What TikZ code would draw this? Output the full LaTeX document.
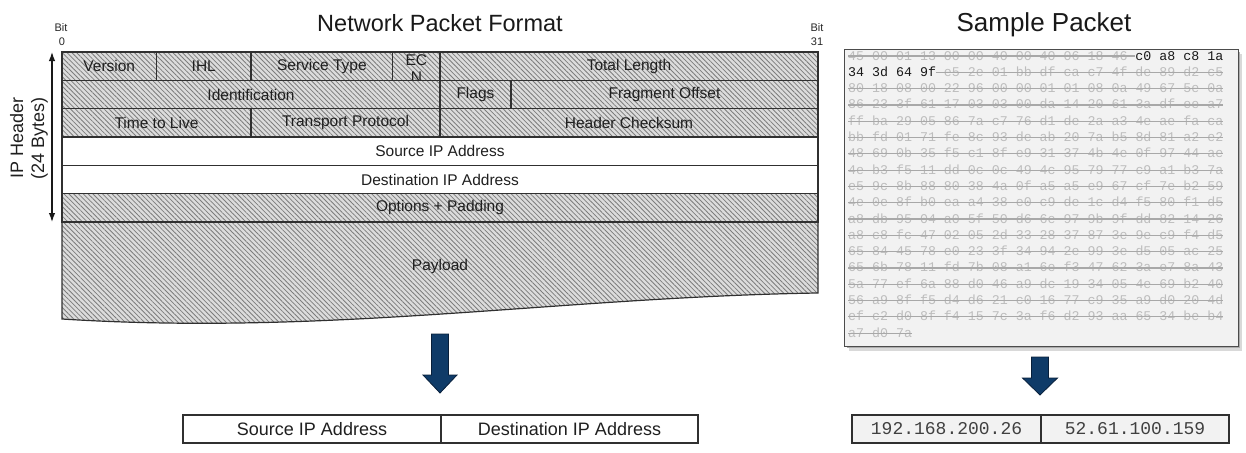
\documentclass[tikz,border=0pt]{standalone}
\usepackage{fontspec}
\setmainfont{Liberation Sans}
\newfontfamily\hexfont{Liberation Mono}
\usetikzlibrary{arrows.meta,patterns.meta}
\definecolor{linecol}{HTML}{303030}
\definecolor{hatchbg}{HTML}{DCDCDC}
\definecolor{hatchfg}{HTML}{7C7C7C}
\definecolor{navy}{HTML}{0F3B68}
\definecolor{navyedge}{HTML}{081F3A}
\definecolor{paneltint}{HTML}{F2F2F2}
\definecolor{hexgrey}{HTML}{BDBDBD}
\definecolor{strikecol}{HTML}{A8A8A8}
\newcommand\fieldcell[7]{%
  \path[#7] (#1,#3) rectangle (#2,#4);
  \node[celltext] (#5) at ({(#1+#2)/2},{(#3+#4)/2}) {#6};}
\newcommand\hexrow[3]{%
  \node[hexstruck] (hex#1) at (848,{60+(#1-1)*16.3}) {#2};
  \draw[strike] (848,{56+(#1-1)*16.3}) -- ({848+#3*7.98},{56+(#1-1)*16.3});}
\begin{document}
\begin{tikzpicture}[x=1pt,y=-1pt,
  hatched/.style={draw=linecol,line width=1.2pt,preaction={fill=hatchbg},
    pattern={Lines[angle=-45,distance=3.4pt,line width=0.8pt]},pattern color=hatchfg},
  plainrow/.style={draw=linecol,line width=1.2pt,fill=white},
  celltext/.style={font=\fontsize{15.5}{17}\selectfont,inner sep=0pt,text=black!88},
  bitlabel/.style={font=\fontsize{11}{12}\selectfont,inner sep=0pt,text=black!85},
  titletext/.style={font=\fontsize{23.5}{26}\selectfont,inner sep=0pt,anchor=base,text=black!90},
  hexstruck/.style={font=\hexfont\fontsize{13.3}{16}\selectfont,inner sep=0pt,anchor=base west,text=hexgrey},
  hexdark/.style={font=\hexfont\fontsize{13.3}{16}\selectfont,inner sep=0pt,anchor=base west,text=black!90},
  strike/.style={draw=strikecol,line width=1.2pt},
  blockarrow/.style={fill=navy,draw=navyedge,line width=0.8pt},
  resultbox/.style={draw=linecol,line width=1.3pt,minimum height=28pt,inner sep=0pt,
    font=\fontsize{18}{20}\selectfont,text=black!88},
  ipbox/.style={draw=linecol,line width=1.3pt,fill=paneltint,minimum height=28pt,inner sep=0pt,
    font=\hexfont\fontsize{18}{20}\selectfont,text=black!75}]
\useasboundingbox (0,0) rectangle (1246,452);

% titles
\node[titletext] (titleA) at (440,32) {Network Packet Format};
\node[titletext,font=\fontsize{26}{28}\selectfont] (titleB) at (1044,32) {Sample Packet};

% bit labels
\node[bitlabel] (bit0a) at (61,28) {Bit};
\node[bitlabel] (bit0b) at (62,42) {0};
\node[bitlabel] (bit31a) at (817,28) {Bit};
\node[bitlabel] (bit31b) at (817,42) {31};

% payload
\path[hatched] (62,222) -- (818,222) -- (818,293) .. controls (560,297) and (330,336) .. (62,319) -- cycle;
\node[celltext] (payload) at (440,266) {Payload};

% header rows
\fieldcell{62}{156.5}{52}{80.3}{ver}{Version}{hatched}
\fieldcell{156.5}{251}{52}{80.3}{ihl}{IHL}{hatched}
\fieldcell{251}{392.75}{52}{80.3}{tos}{Service Type}{hatched}
\path[hatched] (392.75,52) rectangle (440,80.3);
\node[celltext,align=center] (ecn) at (416.4,68.8) {EC\\N};
\fieldcell{440}{818}{52}{80.3}{tlen}{Total Length}{hatched}

\fieldcell{62}{440}{80.3}{108.7}{ident}{Identification}{hatched}
\fieldcell{440}{510.9}{80.3}{108.7}{flags}{Flags}{hatched}
\fieldcell{510.9}{818}{80.3}{108.7}{frag}{Fragment Offset}{hatched}

\fieldcell{62}{251}{108.7}{137}{ttl}{Time to Live}{hatched}
\fieldcell{251}{440}{108.7}{137}{proto}{Transport Protocol}{hatched}
\fieldcell{440}{818}{108.7}{137}{csum}{Header Checksum}{hatched}

\fieldcell{62}{818}{137}{165.3}{srcip}{Source IP Address}{plainrow}
\fieldcell{62}{818}{165.3}{193.7}{dstip}{Destination IP Address}{plainrow}
\fieldcell{62}{818}{193.7}{222}{opts}{Options + Padding}{hatched}

% IP header extent
\coordinate (hdrtop) at (52,52);
\coordinate (hdrbot) at (52,222);
\draw[line width=1.2pt,black!90,{Latex[length=9pt,width=6.5pt]}-{Latex[length=9pt,width=6.5pt]}] (hdrtop) -- (hdrbot);
\node[rotate=90,align=center,inner sep=0pt,font=\fontsize{18}{21}\selectfont,text=black!88] (iphdr) at (29,138) {IP Header\\(24 Bytes)};

% left arrow
\draw[blockarrow] (431.5,334) -- (448.5,334) -- (448.5,375) -- (457,375) -- (440,393) -- (423,375) -- (431.5,375) -- cycle;

% left result box
\node[resultbox,minimum width=258pt] (srcres) at (312,429) {Source IP Address};
\node[resultbox,minimum width=257pt] (dstres) at (569.5,429) {Destination IP Address};

% sample packet panel
\fill[black!15] (848.5,54.5) rectangle (1242,350.5);
\fill[black!32] (846.5,52.5) rectangle (1240,348.3);
\node[draw=black!70,line width=1pt,fill=paneltint,minimum width=394pt,minimum height=296pt,inner sep=0pt] (sample) at (1041,198) {};

% hex dump
\node[hexstruck] (hex1) at (848,60) {45 00 01 13 00 00 40 00 40 06 18 46};
\draw[strike] (848,56) -- ({848+36*7.98},56);
\node[hexdark] (hex1b) at ({848+36*7.98},60) {c0 a8 c8 1a};
\node[hexdark] (hex2a) at (848,76.3) {34 3d 64 9f};
\node[hexstruck] (hex2) at ({848+12*7.98},76.3) {e5 2e 01 bb df ca c7 4f de 89 d2 c5};
\draw[strike] ({848+11*7.98},72.3) -- ({848+47*7.98},72.3);
\hexrow{3}{80 18 08 00 22 96 00 00 01 01 08 0a 49 67 5e 0a}{47}
\hexrow{4}{86 23 3f 61 17 03 03 00 da 14 20 61 3a df ee a7}{47}
\hexrow{5}{ff ba 29 05 86 7a c7 76 d1 de 2a a3 4e ae fa ca}{47}
\hexrow{6}{bb fd 01 71 fe 8c 93 de ab 20 7a b5 8d 81 a2 e2}{47}
\hexrow{7}{48 69 0b 35 f5 c1 8f e9 31 37 4b 4e 0f 97 44 ae}{47}
\hexrow{8}{4e b3 f5 11 dd 0c 0c 49 4c 95 79 77 c9 a1 b3 7a}{47}
\hexrow{9}{e5 9c 8b 88 80 38 4a 0f a5 a5 e9 67 cf 7e b2 59}{47}
\hexrow{10}{4e 0e 8f b0 ea a4 38 e0 c9 de 1c d4 f5 80 f1 d5}{47}
\hexrow{11}{a8 db 95 04 a0 5f 50 d6 6e 97 9b 9f dd 82 14 26}{47}
\hexrow{12}{a8 c8 fc 47 02 05 2d 33 28 37 87 3e 9e c9 f4 d5}{47}
\hexrow{13}{65 84 45 78 e0 23 3f 34 94 2e 99 3e d5 05 ac 25}{47}
\hexrow{14}{65 6b 78 11 fd 7b 08 a1 6e f3 47 62 3a e7 8a 43}{47}
\hexrow{15}{5a 77 ef 6a 88 d0 46 a9 dc 19 34 05 4e 69 b2 40}{47}
\hexrow{16}{56 a9 8f f5 d4 d6 21 c0 16 77 c9 35 a9 d0 20 4d}{47}
\hexrow{17}{ef c2 d0 8f f4 15 7c 3a f6 d2 93 aa 65 34 be b4}{47}
\hexrow{18}{a7 d0 7a}{8}

% right arrow
\draw[blockarrow] (1031.5,357) -- (1048.5,357) -- (1048.5,378) -- (1057.5,378) -- (1040,395) -- (1022.5,378) -- (1031.5,378) -- cycle;

% right result box
\node[ipbox,minimum width=189pt] (srcval) at (946.5,429) {192.168.200.26};
\node[ipbox,minimum width=188pt] (dstval) at (1135,429) {52.61.100.159};
\end{tikzpicture}
\end{document}
